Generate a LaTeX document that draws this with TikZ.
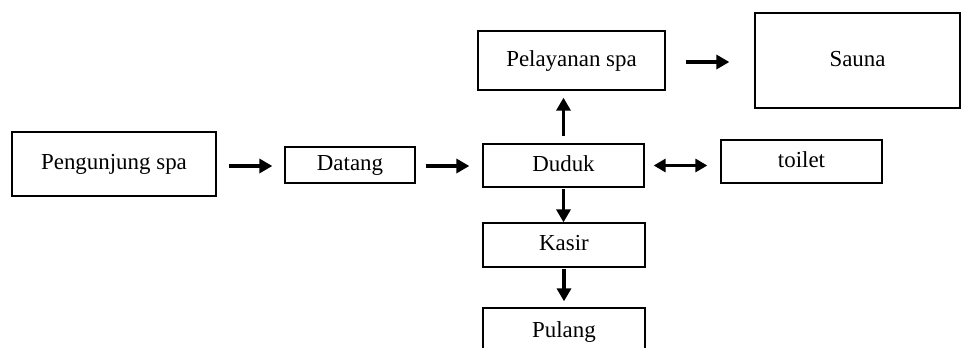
\documentclass[tikz,border=0pt]{standalone}
\usepackage{fontspec}
\setmainfont{Liberation Serif}
\usetikzlibrary{arrows.meta}
\begin{document}
\begin{tikzpicture}[x=1bp,y=-1bp,
  box/.style={draw, line width=1.3bp, rectangle, inner sep=0pt,
    text height=15.6bp, text depth=4.6bp,
    font=\fontsize{23}{27}\selectfont},
  arr/.style={line width=3.8bp, -{Triangle[length=13bp,width=14bp]}},
  darr/.style={line width=3.8bp, {Triangle[length=12bp,width=13bp]}-{Triangle[length=12bp,width=13bp]}}]
\useasboundingbox (0,0) rectangle (961,347);

% process boxes
\node[box, minimum width=204bp, minimum height=64bp] (pengunjung) at (114,164) {Pengunjung spa};
\node[box, minimum width=130bp, minimum height=36bp] (datang) at (350,165) {Datang};
\node[box, minimum width=161bp, minimum height=43bp] (duduk) at (563.5,165.5) {Duduk};
\node[box, minimum width=187bp, minimum height=59bp] (pelayanan) at (571.5,60.5) {Pelayanan spa};
\node[box, minimum width=205bp, minimum height=95bp] (sauna) at (857.5,60.5) {Sauna};
\node[box, minimum width=161bp, minimum height=43bp] (toilet) at (801.5,161.5) {toilet};
\node[box, minimum width=162bp, minimum height=44bp] (kasir) at (564,245) {Kasir};
\node[box, minimum width=162bp, minimum height=48bp] (pulang) at (564,332) {Pulang};

% flow arrows
\draw[arr, shorten <=12bp, shorten >=12bp]
  ([yshift=-2bp]pengunjung.east) -- ([yshift=-2bp]pengunjung.east -| datang.west);
\draw[arr, shorten <=10bp, shorten >=13bp]
  ([yshift=-1bp]datang.east) -- ([yshift=-1bp]datang.east -| duduk.west);
\draw[arr, shorten <=7bp, shorten >=7bp]
  (duduk.north) -- (duduk.north |- pelayanan.south);
\draw[arr, shorten <=20bp, shorten >=25bp]
  ([yshift=-1.5bp]pelayanan.east) -- ([yshift=-1.5bp]pelayanan.east -| sauna.west);
\draw[darr, shorten <=9bp, shorten >=13bp]
  (duduk.east) -- (duduk.east -| toilet.west);
\draw[arr, shorten <=1bp, shorten >=0bp]
  (duduk.south) -- (duduk.south |- kasir.north);
\draw[arr, shorten <=1bp, shorten >=6bp]
  (kasir.south) -- (pulang.north);
\end{tikzpicture}
\end{document}
